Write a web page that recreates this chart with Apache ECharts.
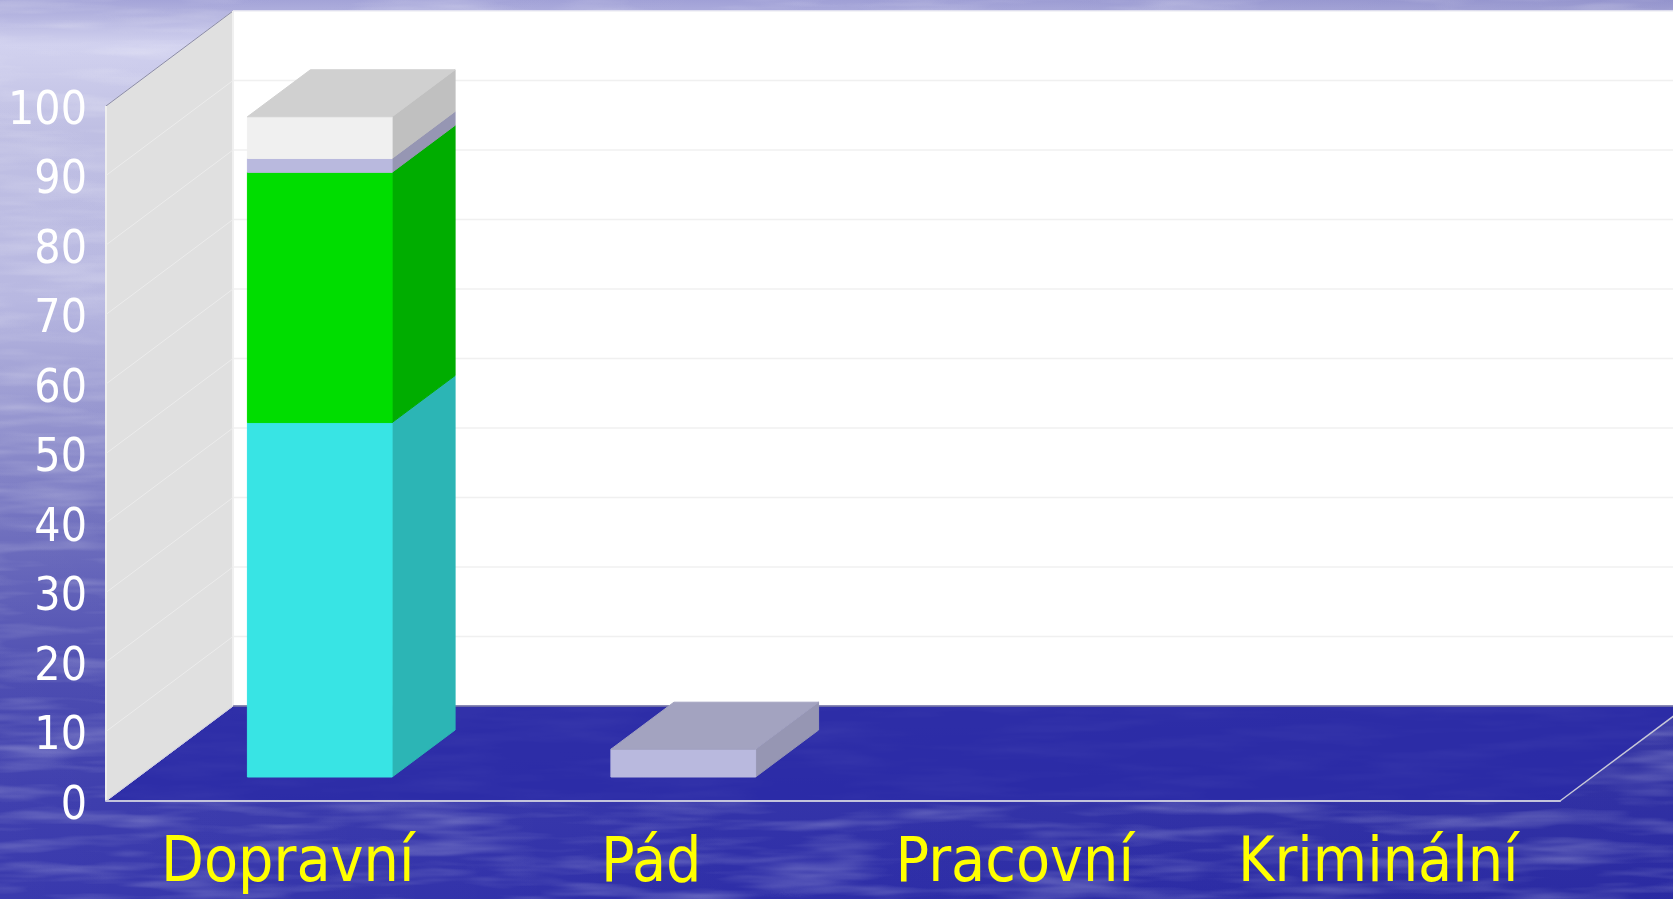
<!DOCTYPE html>
<html>
<head>
<meta charset="utf-8">
<title>Dopravní</title>
<style>
html,body{margin:0;padding:0;width:1673px;height:899px;overflow:hidden;}
body{background:
	linear-gradient(to right,rgba(255,255,255,.06),rgba(255,255,255,0) 45%,rgba(0,0,90,.08)),
	linear-gradient(to bottom,#a0a0d6 0,#cfcfee 45px,#bcbce2 130px,#b4b4df 300px,#8f8fcc 420px,#6767ba 530px,#4343ad 680px,#3434a9 800px,#2e2ea8 899px);}
#water{position:absolute;left:0;top:0;opacity:.3;}
#main{position:absolute;left:0;top:0;width:1673px;height:899px;}
</style>
</head>
<body>
<svg id="water" width="1673" height="899">
	<filter id="streaks"><feTurbulence type="fractalNoise" baseFrequency="0.008 0.07" numOctaves="3" seed="4"/><feColorMatrix values="0 0 0 0 1 0 0 0 0 1 0 0 0 0 1 1.7 0 0 0 -0.72"/></filter>
	<rect width="1673" height="899" filter="url(#streaks)"/>
</svg>
<div id="main"></div>
<script src="https://cdn.jsdelivr.net/npm/echarts@6/dist/echarts.min.js"></script>
<script>
var categories=['Dopravní','Pád','Pracovní','Kriminální'];
var tickValues=[0,10,20,30,40,50,60,70,80,90,100];
var cyanValues=[51,0,0,0];
var greenValues=[36,0,0,0];
var lavenderValues=[2,4,0,0];
var whiteValues=[6,0,0,0];

var layers=[cyanValues,greenValues,lavenderValues,whiteValues];
//front, side, top
var layerColors=[
	['#38e4e4','#2cb5b5','#a0dcdc'],
	['#00dd00','#00ad00','#80d080'],
	['#b9b9de','#9696b3','#a3a3c0'],
	['#f0f0f0','#c0c0c0','#d0d0d0']
];

//depth of the floor, and where the bars stand on it
var depthX=127,depthY=95;
var barOffX=32,barOffY=24,barDepthX=63,barDepthY=47;
var barRatio=0.398;

function poly(points,fill){
	return {type:'polygon',shape:{points:points},style:{fill:fill,stroke:fill,lineWidth:1}};
}
function line(x1,y1,x2,y2,color,width){
	return {type:'line',shape:{x1:x1,y1:y1,x2:x2,y2:y2},style:{stroke:color,lineWidth:width||1}};
}

function renderRoom(params,api){
	var g=params.coordSys;
	var x0=g.x,x1=g.x+g.width,top=api.coord([0,100])[1],bot=api.coord([0,0])[1];
	return {type:'group',children:[
		poly([[x0+depthX,top-depthY],[1673,top-depthY],[1673,bot-depthY],[x0+depthX,bot-depthY]],'#ffffff'),
		poly([[x0,bot],[x1,bot],[x1+depthX,bot-depthY],[x0+depthX,bot-depthY]],'rgba(42,42,166,0.82)'),
		poly([[x0,bot],[x0+depthX,bot-depthY],[x0+depthX,top-depthY],[x0,top]],'#e0e0e0'),
		line(x0,top,x0+depthX,top-depthY,'#8a8aa8',1),
		line(x0,top,x0,bot,'#eeeeee',2),
		line(x0+depthX,top-depthY,x0+depthX,bot-depthY,'#f0f0f0',2),
		line(x0+depthX,top-depthY,1673,top-depthY,'#e8e8f0',1),
		line(x0+depthX,bot-depthY,1673,bot-depthY,'#8080a8',1.5),
		line(x0,bot,x0+depthX,bot-depthY,'#d0d0e0',1),
		line(x1,bot,x1+depthX,bot-depthY,'#c8c8d8',1.5)
	]};
}

function renderGrid(params,api){
	var g=params.coordSys;
	var y=api.coord([0,api.value(0)])[1];
	if(api.value(0)===0||api.value(0)===100) return null;
	return {type:'group',children:[
		line(g.x,y,g.x+depthX,y-depthY,'#ececec',1),
		line(g.x+depthX,y-depthY,1673,y-depthY,'#f0f0f0',1.5)
	]};
}

function barRenderer(idx){
	return function(params,api){
		var c=api.value(0),v=api.value(1);
		if(!v) return null;
		var base=0,above=0,k;
		for(k=0;k<idx;k++) base+=layers[k][c];
		for(k=idx+1;k<layers.length;k++) above+=layers[k][c];
		var w=api.size([1,0])[0]*barRatio;
		var a=api.coord([c,base]),b=api.coord([c,base+v]);
		var l=a[0]-w/2+barOffX,r=l+w;
		var y0=a[1]-barOffY,y1=b[1]-barOffY;
		var col=layerColors[idx];
		var kids=[
			poly([[r,y0],[r+barDepthX,y0-barDepthY],[r+barDepthX,y1-barDepthY],[r,y1]],col[1]),
			poly([[l,y0],[r,y0],[r,y1],[l,y1]],col[0])
		];
		if(!above) kids.push(poly([[l,y1],[r,y1],[r+barDepthX,y1-barDepthY],[l+barDepthX,y1-barDepthY]],col[2]));
		return {type:'group',children:kids};
	};
}

var series=[
	{type:'custom',z:1,silent:true,clip:false,renderItem:renderRoom,data:[0]},
	{type:'custom',z:2,silent:true,clip:false,renderItem:renderGrid,data:tickValues.map(function(t){return [t];}),encode:{y:0}}
];
for(var i=0;i<layers.length;i++){
	series.push({
		type:'custom',z:5,clip:false,
		renderItem:barRenderer(i),
		encode:{x:0,y:1},
		data:layers[i].map(function(v,c){return [c,v];})
	});
}

var myChart=echarts.init(document.getElementById('main'),null,{renderer:'canvas'});
myChart.setOption({
	animation:false,
	backgroundColor:'transparent',
	grid:{left:106,top:106,width:1454,height:695,containLabel:false},
	xAxis:{
		type:'category',
		data:categories,
		z:6,
		axisTick:{show:false},
		axisLine:{show:true,lineStyle:{color:'#c4c4dc',width:2}},
		axisLabel:{color:'#ffff00',fontFamily:'DejaVu Sans Condensed',fontSize:62,margin:33,interval:0}
	},
	yAxis:{
		type:'value',
		min:0,max:100,interval:10,
		axisLine:{show:false},
		axisTick:{show:false},
		splitLine:{show:false},
		axisLabel:{color:'#ffffff',fontFamily:'DejaVu Sans Condensed',fontSize:46,margin:19,verticalAlign:'top',lineHeight:12}
	},
	series:series
});
</script>
</body>
</html>
